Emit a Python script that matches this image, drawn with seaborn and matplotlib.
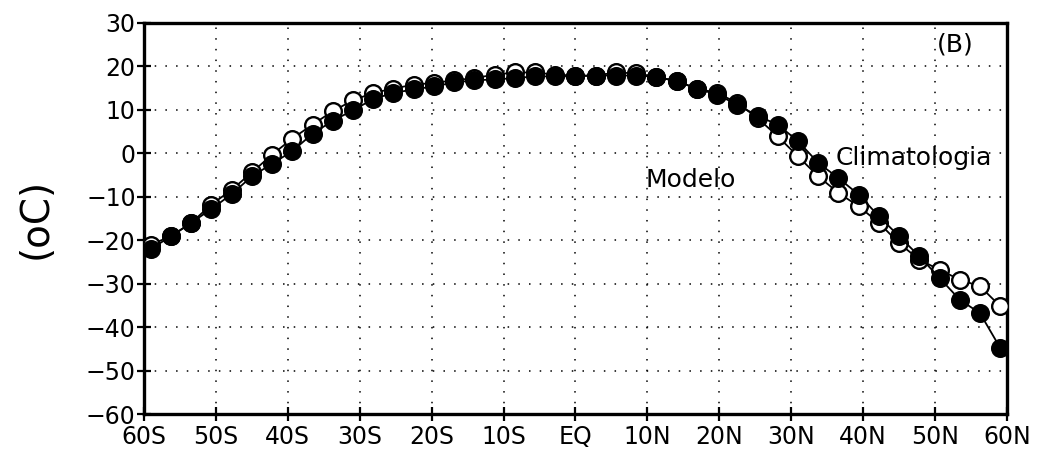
import matplotlib

matplotlib.use("Agg")
import matplotlib.pyplot as plt
import numpy as np
import pandas as pd
import seaborn as sns

# latitudes of the grid points (about 2.8 deg apart, negative = south)
lat = [k * 2.8125 for k in range(-21, 22)]

# filled circles
modelo = [
    -22.0, -19.1, -16.0, -12.8, -9.4, -5.3, -2.4, 0.5, 4.5, 7.5, 9.9,
    12.5, 13.9, 14.7, 15.4, 16.3, 16.8, 17.0, 17.3, 17.7, 17.7, 17.7,
    17.9, 17.9, 17.9, 17.6, 16.6, 14.9, 13.5, 11.2, 8.6, 6.6, 2.8,
    -2.2, -5.7, -9.5, -14.5, -19.1, -23.7, -28.7, -33.7, -36.8, -44.8,
]
# open circles
clima = [
    -21.0, -19.1, -16.0, -11.8, -8.4, -4.4, -0.3, 3.4, 6.6, 9.7, 12.2,
    13.9, 14.9, 15.8, 16.2, 16.8, 17.3, 18.1, 18.6, 18.6, 18.1, 17.9,
    17.9, 18.6, 18.4, 17.6, 16.6, 14.9, 13.9, 11.6, 8.1, 3.9, -0.7,
    -5.3, -9.1, -12.2, -16.0, -20.7, -24.5, -26.8, -29.1, -30.6, -35.2,
]

xticks = [-60, -50, -40, -30, -20, -10, 0, 10, 20, 30, 40, 50, 60]
xlabels = ["60S", "50S", "40S", "30S", "20S", "10S", "EQ",
           "10N", "20N", "30N", "40N", "50N", "60N"]
yticks = [30, 20, 10, 0, -10, -20, -30, -40, -50, -60]

df = pd.DataFrame({"lat": lat, "modelo": modelo, "clima": clima})

sns.set_style("white")
plt.rcParams["font.family"] = ["DejaVu Sans"]
plt.rcParams["text.color"] = "black"
plt.rcParams["axes.labelcolor"] = "black"
plt.rcParams["xtick.color"] = "black"
plt.rcParams["ytick.color"] = "black"

fig = plt.figure(figsize=(10.42, 4.59), dpi=100)
ax = fig.add_axes([0.1382, 0.098, 0.8282, 0.852])

# dotted grid like the original print
for xv in xticks[1:-1]:
    ax.axvline(xv, color="black", linestyle=(0, (1, 6)), linewidth=1.1, zorder=0)
for yv in yticks[1:-1]:
    ax.axhline(yv, color="black", linestyle=(0, (1, 6)), linewidth=1.1, zorder=0)

sns.lineplot(data=df, x="lat", y="clima", ax=ax, color="black", linewidth=1.3,
             marker="o", markersize=12, markerfacecolor="white",
             markeredgecolor="black", markeredgewidth=1.7, zorder=3)
sns.lineplot(data=df, x="lat", y="modelo", ax=ax, color="black", linewidth=1.3,
             marker="o", markersize=12, markerfacecolor="black",
             markeredgecolor="black", markeredgewidth=1.7, zorder=4)

ax.set_xlim(-60, 60)
ax.set_ylim(-60, 30)
ax.set_xticks(xticks)
ax.set_xticklabels(xlabels)
ax.set_yticks(yticks)
ax.tick_params(axis="both", labelsize=17, direction="inout", length=10,
               width=1.6, color="black", labelcolor="black",
               bottom=True, left=True)
ax.tick_params(axis="x", pad=3)
ax.tick_params(axis="y", pad=1)
for s in ax.spines.values():
    s.set_linewidth(2.4)
    s.set_color("black")

ax.set_xlabel("")
ax.set_ylabel("(oC)", fontsize=28, labelpad=22, color="black")

ax.text(9.8, -6.1, "Modelo", fontsize=18, va="center", ha="left")
ax.text(36.2, -1.0, "Climatologia", fontsize=18, va="center", ha="left")
ax.text(0.94, 0.944, "(B)", fontsize=18, va="center", ha="center",
        transform=ax.transAxes)

fig.savefig("out.png", dpi=100)
